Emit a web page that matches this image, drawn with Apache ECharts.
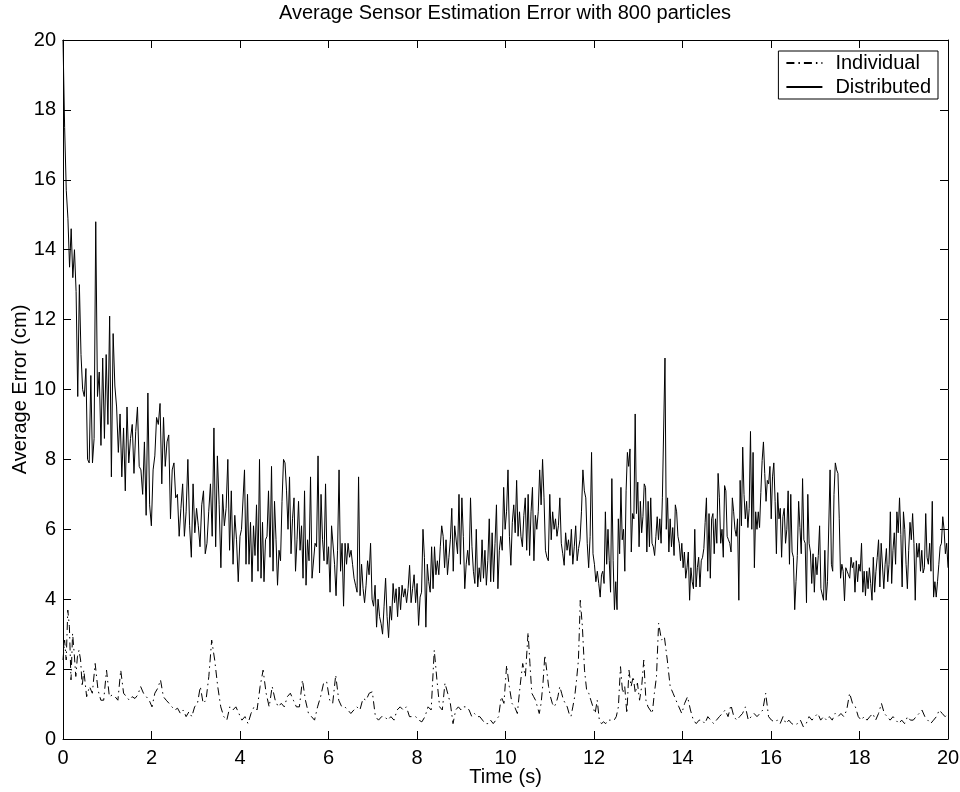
<!DOCTYPE html>
<html>
<head>
<meta charset="utf-8">
<script src="https://cdn.jsdelivr.net/npm/echarts@6/dist/echarts.min.js"></script>
<style>html,body{margin:0;padding:0;background:#fff}#c{width:960px;height:792px}</style>
</head>
<body>
<div id="c"></div>
<script>
// ---- Data (time in s, error in cm) ----
const titleText = 'Average Sensor Estimation Error with 800 particles';
const xName = 'Time (s)';
const yName = 'Average Error (cm)';
const seriesNames = ['Individual', 'Distributed'];

// Distributed: value at t=0, then segments (each segment's values evenly spread up to its end time)
const distStart = 20;
const distEnds = [0.74, 4.0, 8.07, 12.14, 16.21, 20.0];
const distSeg1 = [17.5, 15.7, 14.9, 13.5, 14.6, 13.2, 14.0, 12.8, 9.8, 13.0, 11.0, 10.0, 9.8, 10.6, 8.0, 7.9, 10.4, 7.9, 8.6, 14.8];
const distSeg2 = [9.8, 10.5, 8.4, 10.9, 8.6, 11.0, 9.0, 12.1, 7.5, 11.6, 10.1, 9.5, 8.2, 9.3, 7.5, 8.9, 7.1, 9.5, 7.9, 8.6, 9.0, 7.6, 8.8, 9.5, 7.8, 7.7, 7.0, 8.5, 6.4, 9.9, 6.7, 6.1, 7.7, 8.1, 9.2, 9.0, 9.6, 7.3, 9.2, 7.8, 8.5, 8.7, 6.3, 7.7, 7.9, 6.9, 7.0, 5.8, 6.6, 7.3, 5.8, 6.5, 8.0, 6.1, 5.2, 7.3, 5.9, 6.6, 6.1, 5.5, 6.7, 7.1, 5.3, 5.6, 6.5, 7.3, 5.8, 8.9, 5.5, 8.1, 6.7, 4.9, 7.0, 6.1, 6.6, 8.0, 5.4, 7.1, 5.0, 6.4, 5.7, 4.5, 5.8];
const distSeg3 = [6.0, 6.0, 7.7, 5.0, 7.0, 5.0, 6.2, 4.5, 6.1, 5.25, 6.7, 4.8, 8.0, 4.6, 6.2, 4.5, 5.7, 5.8, 7.1, 5.2, 7.8, 4.8, 6.8, 5.7, 4.4, 5.4, 5.1, 6.8, 8.0, 7.9, 7.1, 6.0, 7.5, 5.3, 6.3, 6.9, 4.8, 5.7, 6.8, 5.4, 6.1, 4.6, 7.1, 4.4, 5.7, 5.1, 7.5, 4.6, 4.6, 5.6, 5.5, 8.1, 4.75, 7.0, 5.7, 5.1, 7.3, 5.0, 5.5, 4.2, 6.1, 6.1, 5.0, 4.1, 5.4, 7.7, 4.8, 5.6, 3.8, 5.6, 5.0, 5.6, 5.2, 5.4, 5.0, 4.6, 4.4, 4.2, 7.5, 4.1, 5.0, 4.3, 3.9, 4.4, 5.1, 4.7, 5.6, 4.0, 3.8, 4.4, 3.2, 4.0, 3.5, 3.3, 3.0, 3.8, 4.6, 3.5, 2.9, 3.8, 3.4, 4.45, 3.9, 4.3, 3.5, 4.35, 3.7, 4.4, 4.06, 4.3, 3.9, 4.3, 4.97, 3.9, 4.3, 4.7, 3.9, 4.45, 3.25, 4.06];
const distSeg4 = [4.2, 6.0, 5.2, 3.2, 5.0, 4.5, 4.2, 5.5, 4.3, 5.5, 4.7, 5.1, 4.7, 5.5, 6.1, 5.8, 4.9, 5.7, 4.7, 5.2, 5.7, 6.6, 4.8, 6.1, 6.1, 5.3, 7.0, 5.0, 6.9, 5.8, 4.3, 5.0, 5.4, 4.97, 6.9, 5.5, 4.8, 4.45, 6.0, 4.35, 4.9, 4.5, 5.7, 4.6, 5.4, 4.4, 5.1, 6.3, 4.5, 5.9, 4.5, 5.6, 6.7, 4.3, 5.4, 5.8, 5.4, 7.2, 6.0, 6.5, 7.7, 5.8, 4.97, 6.2, 6.7, 5.9, 7.4, 5.8, 6.5, 5.8, 5.5, 6.4, 6.9, 5.4, 7.0, 5.25, 6.5, 7.2, 5.1, 6.4, 6.0, 6.5, 7.7, 6.7, 8.0, 6.9, 5.4, 5.2, 5.1, 7.0, 5.7, 6.5, 6.0, 6.3, 5.8, 6.1, 6.9, 5.6, 5.3, 4.97, 5.9, 5.4, 5.7, 5.25, 6.0, 5.0, 5.5, 6.1, 5.1, 5.45, 5.7, 6.5, 7.7, 7.1, 6.9, 5.6, 4.9, 5.8, 8.2, 5.3, 5.0, 4.5, 4.8, 4.45, 4.06];
const distSeg5 = [4.7, 4.8, 4.45, 6.5, 5.0, 6.0, 5.1, 4.2, 7.45, 5.1, 3.7, 4.5, 3.7, 6.3, 5.3, 7.2, 5.7, 6.0, 4.8, 7.1, 8.2, 7.8, 8.3, 5.35, 6.45, 6.3, 9.3, 6.45, 7.35, 5.5, 6.8, 5.9, 6.36, 7.3, 7.2, 5.35, 6.8, 5.5, 6.9, 5.6, 5.5, 5.25, 5.8, 6.36, 5.7, 6.3, 5.6, 6.9, 6.9, 10.9, 6.0, 6.9, 5.35, 6.3, 5.5, 6.05, 5.25, 6.7, 6.5, 5.8, 5.6, 5.1, 5.6, 4.9, 5.35, 4.6, 4.9, 5.35, 3.97, 4.9, 4.5, 4.3, 6.0, 4.35, 4.9, 5.2, 4.35, 5.1, 5.2, 5.45, 6.2, 6.9, 4.8, 6.45, 4.6, 6.3, 6.45, 5.3, 6.3, 5.6, 7.6, 6.9, 5.6, 6.0, 5.2, 7.25, 7.1, 5.8, 5.7, 5.6, 5.35, 6.9, 6.5, 6.0, 5.8, 6.3, 3.97, 7.4, 6.1, 8.35, 7.0, 6.3, 6.8, 6.05, 6.6, 8.8, 6.0, 8.2, 4.9, 6.5, 6.0, 6.5, 6.05, 7.05, 7.97, 8.5, 7.6, 6.8, 7.4, 7.3, 7.8, 6.3, 7.5, 7.9, 6.8, 5.3, 7.05, 6.3, 6.6];
const distSeg6 = [5.2, 6.36, 6.6, 5.6, 6.0, 7.1, 5.0, 7.0, 5.35, 5.2, 3.7, 4.5, 5.25, 6.8, 6.05, 5.3, 7.45, 5.7, 5.6, 3.9, 7.0, 5.6, 5.35, 4.45, 5.3, 4.2, 5.2, 4.7, 5.25, 6.1, 4.3, 4.3, 3.97, 5.4, 3.97, 4.5, 4.5, 7.7, 5.0, 4.8, 7.0, 7.9, 7.7, 7.6, 6.3, 4.6, 5.0, 4.8, 3.95, 4.9, 4.8, 4.7, 4.6, 5.2, 4.9, 5.05, 4.2, 5.1, 4.5, 5.0, 4.8, 5.6, 4.2, 4.8, 4.1, 4.8, 4.3, 4.9, 4.45, 3.97, 5.2, 4.2, 4.8, 5.2, 5.7, 4.35, 5.6, 5.6, 4.3, 5.0, 5.45, 4.5, 5.0, 6.5, 4.45, 5.4, 5.9, 5.0, 6.5, 5.9, 6.9, 5.85, 4.35, 6.5, 6.0, 5.0, 4.3, 5.4, 6.2, 5.7, 6.45, 5.6, 3.97, 5.6, 5.2, 5.6, 4.8, 5.4, 4.75, 4.9, 6.45, 5.2, 5.0, 5.6, 4.8, 6.8, 4.06, 4.5, 4.06, 4.5, 5.0, 5.5, 5.6, 6.36, 6.0, 5.3, 5.6, 4.9];

// Individual
const indStart = 2.26;
const indEnds = [0.47, 3.36, 6.71, 8.39, 10.51, 11.69, 13.46, 20.0];
const indSeg1 = [2.83, 2.26, 3.69, 3.21, 1.69, 3.02, 2.45, 1.79, 2.35, 2.54, 2.26, 1.5, 1.97];
const indSeg2 = [1.21, 1.5, 1.31, 2.16, 1.4, 1.11, 1.11, 1.97, 1.21, 1.26, 1.21, 1.11, 1.97, 1.31, 1.21, 1.11, 1.21, 1.16, 1.26, 1.5, 1.31, 1.21, 1.11, 0.92, 1.31, 1.45, 1.69, 1.21, 1.11, 1.02, 0.92, 0.83, 0.88, 0.73, 0.83, 0.64, 0.78, 0.64, 0.92, 1.02, 1.5, 1.02, 1.11, 1.79, 2.83];
const indSeg3 = [2.26, 1.5, 0.92, 0.64, 0.54, 0.92, 0.83, 0.92, 0.73, 0.54, 0.64, 0.44, 0.73, 0.92, 0.83, 1.5, 1.97, 1.31, 0.92, 1.5, 1.11, 0.92, 1.02, 0.92, 1.21, 1.31, 1.11, 0.92, 0.92, 1.69, 1.11, 0.73, 0.64, 0.54, 0.92, 1.21, 1.6, 1.64, 1.11, 1.02, 1.83, 1.11, 0.92, 0.92, 0.83, 0.73, 0.83, 0.92, 0.83];
const indSeg4 = [1.16, 1.11, 1.31, 1.35, 0.64, 0.54, 0.64, 0.64, 0.54, 0.64, 0.54, 0.83, 0.92, 0.83, 0.92, 0.64, 0.64, 0.64, 0.54, 0.49, 0.64, 0.92, 0.83, 2.54];
const indSeg5 = [1.69, 0.92, 0.83, 1.6, 1.31, 1.02, 0.44, 0.83, 0.92, 0.83, 0.92, 0.92, 0.83, 0.64, 0.73, 0.64, 0.64, 0.54, 0.44, 0.44, 0.54, 0.44, 0.54, 0.64, 1.21, 1.02, 2.11, 1.5, 1.02, 0.92, 0.73, 1.5, 2.16, 1.79, 3.05];
const indSeg6 = [2.16, 1.31, 1.21, 1.11, 0.92, 0.73, 1.02, 1.6, 2.4, 1.97, 1.5, 1.21, 1.02, 0.92, 1.02, 1.21, 1.5, 1.31, 1.11, 1.02, 0.92, 0.73, 0.64, 0.92, 1.21, 1.69, 2.26, 3.97];
const indSeg7 = [3.21, 1.97, 1.4, 1.31, 1.11, 0.92, 0.73, 1.11, 0.54, 0.44, 0.49, 0.44, 0.54, 0.54, 0.54, 0.54, 0.64, 0.92, 2.07, 1.31, 1.5, 0.73, 1.97, 1.5, 1.79, 1.31, 1.6, 1.11, 1.5, 2.26, 1.11, 0.92, 0.83, 0.73, 1.31, 1.79, 3.31];
const indSeg8 = [2.83, 2.92, 2.26, 1.5, 1.31, 1.11, 0.92, 0.73, 1.02, 1.21, 0.83, 0.54, 0.44, 0.54, 0.54, 0.44, 0.64, 0.54, 0.44, 0.54, 0.64, 0.73, 0.83, 0.64, 0.97, 0.64, 0.54, 0.64, 0.73, 0.92, 0.54, 0.64, 0.73, 0.64, 0.73, 0.83, 1.31, 0.64, 0.54, 0.49, 0.54, 0.44, 0.64, 0.44, 0.54, 0.44, 0.4, 0.44, 0.54, 0.35, 0.44, 0.64, 0.54, 0.64, 0.73, 0.54, 0.64, 0.54, 0.64, 0.54, 0.73, 0.64, 0.73, 0.64, 0.83, 1.31, 1.02, 0.92, 0.64, 0.54, 0.64, 0.54, 0.64, 0.73, 0.54, 0.73, 1.02, 0.73, 0.64, 0.54, 0.64, 0.54, 0.44, 0.54, 0.44, 0.64, 0.54, 0.54, 0.64, 0.73, 0.83, 0.64, 0.54, 0.44, 0.54, 0.64, 0.83, 0.73, 0.64, 0.73];

const xTicks = {min: 0, max: 20, step: 2};
const yTicks = {min: 0, max: 20, step: 2};

// ---- Build ----
function build(startVal, ends, segs) {
  const pts = [[0, startVal]];
  let t0 = 0;
  segs.forEach((seg, k) => {
    const t1 = ends[k];
    const n = seg.length;
    seg.forEach((v, i) => pts.push([t0 + (i + 1) * (t1 - t0) / n, v]));
    t0 = t1;
  });
  return pts;
}
const distData = build(distStart, distEnds, [distSeg1, distSeg2, distSeg3, distSeg4, distSeg5, distSeg6]);
const indData = build(indStart, indEnds, [indSeg1, indSeg2, indSeg3, indSeg4, indSeg5, indSeg6, indSeg7, indSeg8]);

const FONT = "'Liberation Sans', Arial, Helvetica, sans-serif";
const FS = 20;
const chart = echarts.init(document.getElementById('c'), null, {renderer: 'canvas'});

function axisCommon(extra) {
  return Object.assign({
    type: 'value',
    axisLine: {show: true, onZero: false, lineStyle: {color: '#000', width: 1}},
    axisTick: {show: true, inside: true, length: 8, lineStyle: {color: '#000', width: 1}},
    splitLine: {show: false},
    axisLabel: {color: '#000', fontSize: FS, fontFamily: FONT}
  }, extra);
}

chart.setOption({
  animation: false,
  backgroundColor: '#fff',
  title: {
    text: titleText,
    left: 505,
    top: 3,
    textAlign: 'center',
    padding: 0,
    textStyle: {color: '#000', fontSize: FS, fontWeight: 'normal', fontFamily: FONT}
  },
  grid: {left: 63, right: 12, top: 40, bottom: 53, containLabel: false, outerBoundsMode: 'none'},
  legend: {
    data: seriesNames,
    orient: 'vertical',
    right: 22,
    top: 51,
    padding: [2, 7, 2, 7],
    itemWidth: 36,
    itemHeight: 14,
    itemGap: 4,
    borderColor: '#000',
    borderWidth: 1,
    borderRadius: 0,
    backgroundColor: '#fff',
    itemStyle: {opacity: 0},
    textStyle: {color: '#000', fontSize: FS, lineHeight: 20, fontFamily: FONT, padding: [0, 0, 0, 8]}
  },
  xAxis: [
    axisCommon({
      position: 'bottom', min: xTicks.min, max: xTicks.max, interval: xTicks.step,
      name: xName, nameLocation: 'middle', nameGap: 28, nameMoveOverlap: false,
      nameTextStyle: {color: '#000', fontSize: FS, fontFamily: FONT},
      axisLabel: {color: '#000', fontSize: FS, fontFamily: FONT, margin: 9}
    }),
    axisCommon({
      position: 'top', min: xTicks.min, max: xTicks.max, interval: xTicks.step,
      axisLabel: {show: false}
    })
  ],
  yAxis: [
    axisCommon({
      position: 'left', min: yTicks.min, max: yTicks.max, interval: yTicks.step,
      name: yName, nameLocation: 'middle', nameGap: 33, nameMoveOverlap: false,
      nameTextStyle: {color: '#000', fontSize: FS, fontFamily: FONT},
      axisLabel: {color: '#000', fontSize: FS, fontFamily: FONT, margin: 7}
    }),
    axisCommon({
      position: 'right', min: yTicks.min, max: yTicks.max, interval: yTicks.step,
      axisLabel: {show: false}
    })
  ],
  series: [
    {
      name: seriesNames[0], type: 'line', data: indData, xAxisIndex: 0, yAxisIndex: 0,
      symbol: 'none', sampling: null, clip: true,
      lineStyle: {color: '#000', width: 1, type: [8, 4, 1.5, 4]},
      itemStyle: {color: '#000'}
    },
    {
      name: seriesNames[1], type: 'line', data: distData, xAxisIndex: 0, yAxisIndex: 0,
      symbol: 'none', sampling: null, clip: true,
      lineStyle: {color: '#000', width: 1, type: 'solid'},
      itemStyle: {color: '#000'}
    }
  ]
});
</script>
</body>
</html>
